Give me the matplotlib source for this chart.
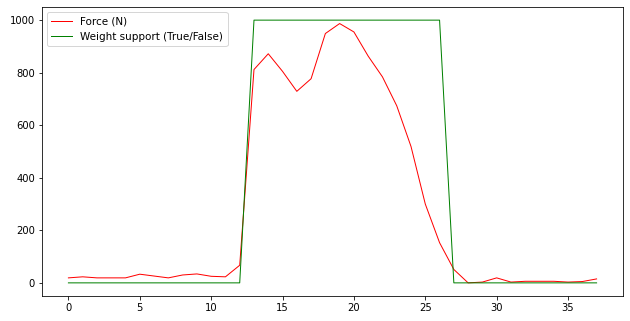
import matplotlib
matplotlib.use("Agg")
import matplotlib.pyplot as plt

frames = list(range(38))
force = [19, 23, 19, 19, 19, 33, 26, 19, 30, 34, 25, 23, 67, 812, 872, 805, 729, 777, 949, 987,
         955, 863, 784, 674, 519, 300, 153, 51, 0, 3, 19, 3, 6, 6, 6, 3, 5, 15]
support = [0] * 13 + [1] * 14 + [0] * 11


def main():
    fig = plt.figure(figsize=(630 / 72, 321 / 72), dpi=72)
    ax = fig.add_axes([42 / 630, 1 - 296 / 321, (623 - 42) / 630, (296 - 7) / 321])
    ax.plot(frames, force, color="red", linewidth=1, label="Force (N)")
    ax.plot(frames, [s * 1000 for s in support], color="green", linewidth=1,
            label="Weight support (True/False)")
    ax.legend(loc="upper left", fontsize=10.4)
    fig.savefig("out.png", dpi=72)


if __name__ == '__main__':
    main()
